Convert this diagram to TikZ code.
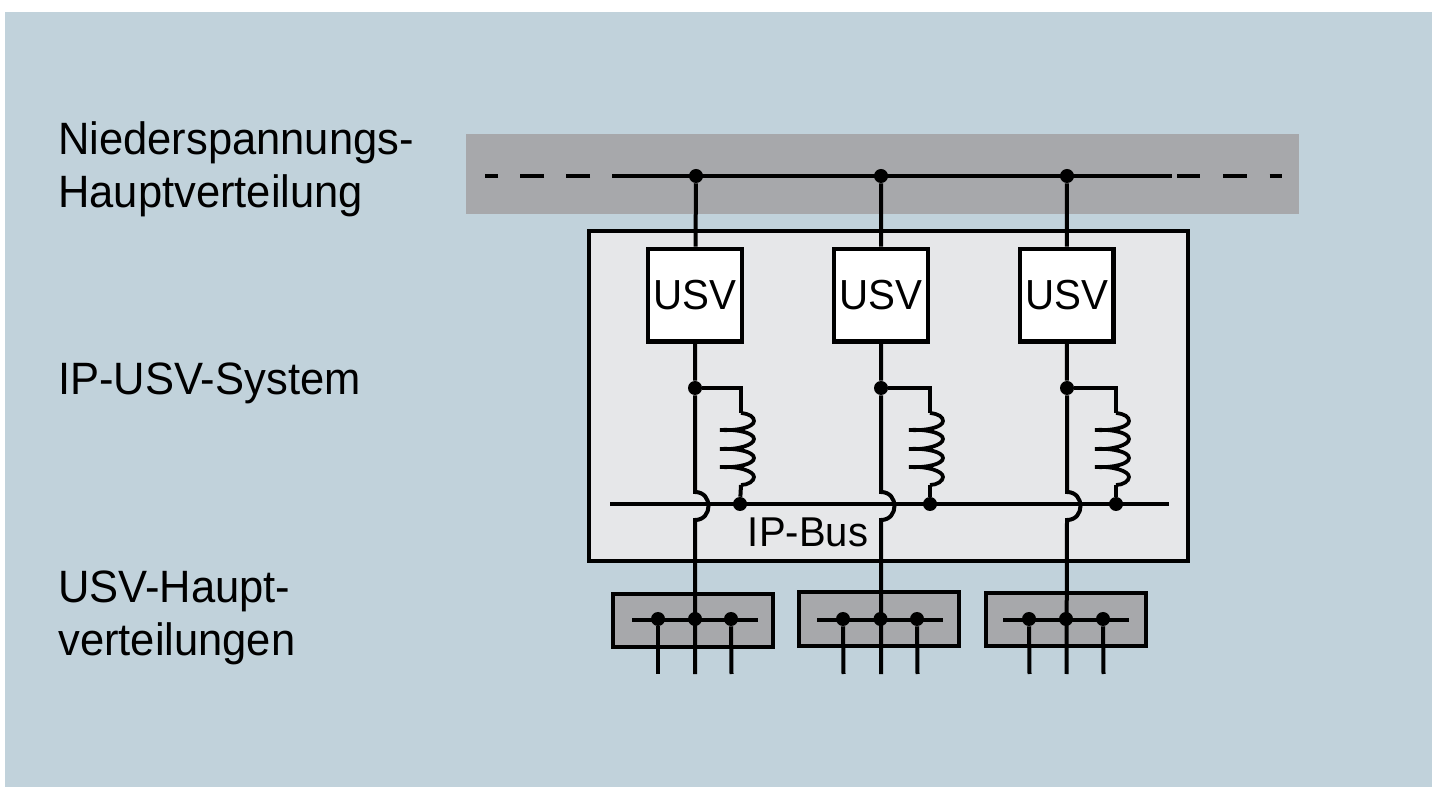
\documentclass[tikz,border=0pt]{standalone}
\usepackage{fontspec}
\setmainfont{Liberation Sans}[FakeStretch=0.96]
\usetikzlibrary{positioning}
\definecolor{panelblue}{HTML}{C1D2DB}
\definecolor{bargray}{HTML}{A7A8AB}
\definecolor{syslight}{HTML}{E6E7E9}

\begin{document}
\begin{tikzpicture}[
        x=0.75pt,
        y=-0.75pt,
        wire/.style={line width=3pt},
        dot/.style={circle, fill=black, inner sep=0pt, minimum size=10.5pt},
        usvbox/.style={
            draw,
            line width=3.2pt,
            fill=white,
            inner sep=0pt,
            minimum width=70.3pt,
            minimum height=69.5pt,
            font=\fontsize{31.5}{36}\selectfont
        },
        subbox/.style={
            draw,
            line width=3pt,
            fill=bargray,
            minimum width=120pt,
            minimum height=40pt
        },
        sidetext/.style={
            anchor=base west,
            align=left,
            inner sep=0pt,
            font=\fontsize{34}{39.5}\selectfont
        },
        coil/.pic={
            \draw[line width=2.8pt] (0,-36) .. controls (9,-35) and (13,-32) .. (13,-28)
                .. controls (13,-22) and (-3,-18) .. (-21,-19)
                .. controls (-3,-20) and (13,-16) .. (13,-10)
                .. controls (13,-4) and (-3,1) .. (-21,0)
                .. controls (-3,-1) and (13,3) .. (13,9)
                .. controls (13,15) and (-3,19) .. (-21,18)
                .. controls (-3,17) and (13,22) .. (13,28)
                .. controls (13,32) and (7,36) .. (0,36);
        }
    ]
        \useasboundingbox (0,0) rectangle (1432,787);
        \fill[white] (0,0) rectangle (1432,787);
        \fill[panelblue] (5,12) rectangle (1432,787);

        % Hauptverteilung
        \node[fill=bargray, inner sep=0pt, minimum width=624.75pt, minimum height=60pt] (hv) at (882.5,174) {};
        \node[draw, line width=3pt, fill=syslight, inner sep=0pt, outer sep=0pt, minimum width=449pt, minimum height=247.3pt] (sys) at (888.8,395.8) {};

        \node[sidetext] (lblhv) at (58,207.5) {Niederspannungs-\\Hauptverteilung};
        \node[sidetext] (lblsys) at (58,395) {IP-USV-System};
        \node[sidetext] (lblhaupt) at (58,655) {USV-Haupt-\\verteilungen};

        \coordinate (hvstart) at (612,176);
        \coordinate (hvend) at (1172,176);
        \coordinate (dashl) at (485,176);
        \coordinate (dashs) at (1177,176);
        \coordinate (dashr) at (1282,176);
        \draw[wire] (hvstart) -- (hvend);
        \draw[wire, dash pattern=on 18pt off 16.5pt, dash phase=18pt] (hvstart) -- (dashl);
        \draw[wire, dash pattern=on 17.5pt off 17.25pt] (dashs) -- (dashr);

        \node[dot] (hva) at (696,176) {};
        \node[dot] (hvb) at (881,176) {};
        \node[dot] (hvc) at (1067,176) {};

        \node[usvbox] (usva) at (695.2,295.2) {USV};
        \node[usvbox] (usvb) at (881.2,295.2) {USV};
        \node[usvbox] (usvc) at (1066.7,295.2) {USV};

        \draw[wire] (hva) -- (usva);
        \draw[wire] (hvb) -- (usvb);
        \draw[wire] (hvc) -- (usvc);

        % IP-Bus
        \coordinate (busl) at (610,504);
        \coordinate (busr) at (1169,504);
        \draw[wire] (busl) -- (busr);
        \node[font=\fontsize{31.25}{36}\selectfont, inner sep=0pt] (bus) at (808,532.5) {IP-Bus};

        \node[dot] (ja) at (695,388) {};
        \node[dot] (jb) at (881,388) {};
        \node[dot] (jc) at (1067,388) {};
        \node[dot] (ka) at (740,504) {};
        \node[dot] (kb) at (930,504) {};
        \node[dot] (kc) at (1116,504) {};

        \coordinate (ca) at (741,449);
        \coordinate (cb) at (930,449);
        \coordinate (cc) at (1116,449);
        \pic at (ca) {coil};
        \pic at (cb) {coil};
        \pic at (cc) {coil};

        \coordinate (cat) at (741,413);
        \coordinate (cbt) at (930,413);
        \coordinate (cct) at (1116,413);
        \coordinate (cab) at (741,485);
        \coordinate (cbb) at (930,485);
        \coordinate (ccb) at (1116,485);
        \draw[wire] (ja) -| (cat);
        \draw[wire] (jb) -| (cbt);
        \draw[wire] (jc) -| (cct);
        \draw[wire] (cab) -- (ka);
        \draw[wire] (cbb) -- (kb);
        \draw[wire] (ccb) -- (kc);

        % USV-Hauptverteilungen
        \node[subbox] (uva) at (692.9,620.3) {};
        \node[subbox] (uvb) at (879.2,619) {};
        \node[subbox] (uvc) at (1065.5,619.3) {};

        \coordinate (uval) at (632,620);
        \coordinate (uvar) at (758,620);
        \coordinate (uvbl) at (817,620);
        \coordinate (uvbr) at (943,620);
        \coordinate (uvcl) at (1003,620);
        \coordinate (uvcr) at (1129,620);
        \draw[wire] (uval) -- (uvar);
        \draw[wire] (uvbl) -- (uvbr);
        \draw[wire] (uvcl) -- (uvcr);

        \node[dot] (aa) at (658,619) {};
        \node[dot] (ab) at (695,619) {};
        \node[dot] (ac) at (731,619) {};
        \node[dot] (ba) at (843,619) {};
        \node[dot] (bb) at (880.5,619) {};
        \node[dot] (bc) at (917,619) {};
        \node[dot] (ca2) at (1029,619) {};
        \node[dot] (cb2) at (1066,619) {};
        \node[dot] (cc2) at (1103,619) {};

        \coordinate (legaa) at (658,674);
        \coordinate (legab) at (695,674);
        \coordinate (legac) at (731.5,674);
        \coordinate (legba) at (843.5,674);
        \coordinate (legbb) at (881,674);
        \coordinate (legbc) at (917.5,674);
        \coordinate (legca) at (1029.5,674);
        \coordinate (legcb) at (1066.5,674);
        \coordinate (legcc) at (1103.5,674);
        \draw[wire] (aa) -- (legaa);
        \draw[wire] (ac) -- (legac);
        \draw[wire] (ba) -- (legba);
        \draw[wire] (bc) -- (legbc);
        \draw[wire] (ca2) -- (legca);
        \draw[wire] (cc2) -- (legcc);

        % Abzweige mit Bogen
        \coordinate (ba1) at (695,492);
        \coordinate (ba2) at (695,520);
        \coordinate (bb1) at (881,492);
        \coordinate (bb2) at (881,520);
        \coordinate (bc1) at (1067,492);
        \coordinate (bc2) at (1067,520);
        \draw[wire] (usva) -- (ja) -- (ba1) .. controls +(18,0) and +(18,0) .. (ba2) -- (legab);
        \draw[wire] (usvb) -- (jb) -- (bb1) .. controls +(18,0) and +(18,0) .. (bb2) -- (legbb);
        \draw[wire] (usvc) -- (jc) -- (bc1) .. controls +(18,0) and +(18,0) .. (bc2) -- (legcb);
    \end{tikzpicture}
\end{document}
